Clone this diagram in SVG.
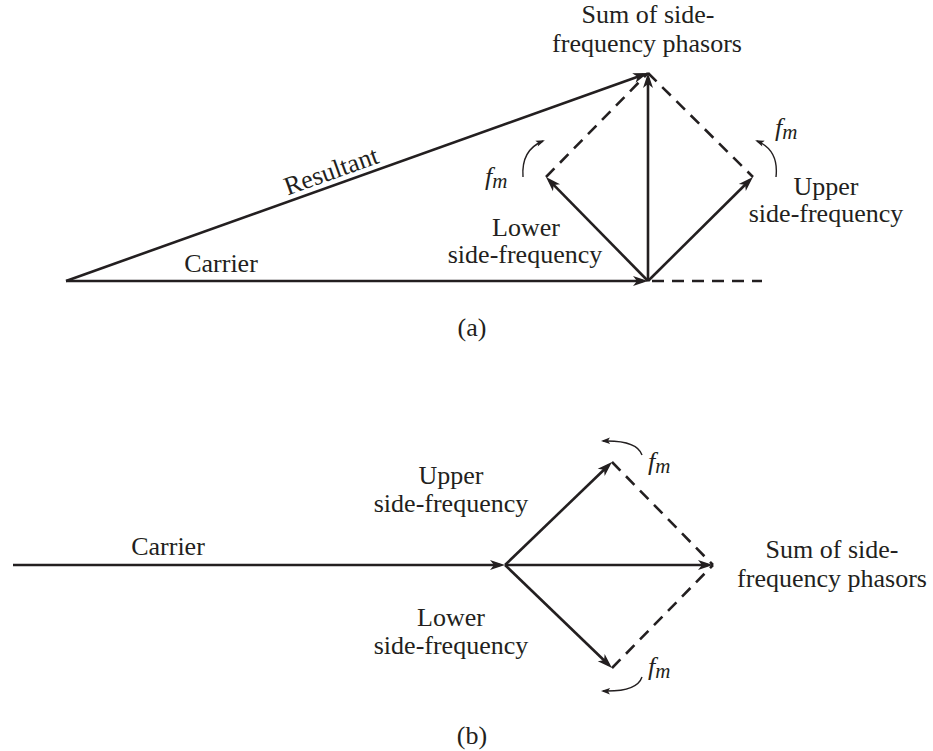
<svg xmlns="http://www.w3.org/2000/svg" width="933" height="751" viewBox="0 0 933 751">
<style>
text{font-family:"Liberation Serif","Times New Roman",serif;font-size:26px;fill:#231f20}
.c{text-anchor:middle}
.it{font-style:italic}
.ln{stroke:#231f20;stroke-width:2.6;fill:none}
.ar{stroke:#231f20;stroke-width:2.6;fill:none;marker-end:url(#ah)}
.ds{stroke:#231f20;stroke-width:2.6;fill:none;stroke-dasharray:12 8}
.rot{stroke:#231f20;stroke-width:1.4;fill:none;marker-end:url(#sm)}
</style>
<defs>
<marker id="ah" viewBox="-11 -6 17 12" refX="0" refY="0" markerWidth="17" markerHeight="12" markerUnits="userSpaceOnUse" orient="auto">
<path d="M5,0 L-10,-5 L-6,0 L-10,5 Z" fill="#231f20"/>
</marker>
<marker id="sm" viewBox="-8 -4 10 8" refX="0" refY="0" markerWidth="10" markerHeight="8" markerUnits="userSpaceOnUse" orient="auto">
<path d="M2,0 L-7,-3.2 L-5,0 L-7,3.2 Z" fill="#231f20"/>
</marker>
</defs>
<rect width="933" height="751" fill="#ffffff"/>
<g id="connectors">
<!-- (a) -->
<line class="ar" x1="66" y1="281" x2="643" y2="281"/>
<line class="ar" x1="66" y1="281" x2="643.3" y2="74.7"/>
<line class="ar" x1="648" y1="281" x2="648" y2="78"/>
<line class="ar" x1="648" y1="281" x2="549.5" y2="180.6"/>
<line class="ar" x1="648" y1="281" x2="749.4" y2="180.5"/>
<line class="ds" x1="546" y1="177" x2="648" y2="73"/>
<line class="ds" x1="648" y1="73" x2="753" y2="177"/>
<line class="ds" x1="652" y1="281" x2="762" y2="281"/>
<path class="rot" d="M523,177 Q521,150 543,141"/>
<path class="rot" d="M776,177 Q779,150 757,141"/>
<!-- (b) -->
<line class="ar" x1="13" y1="565" x2="500" y2="565"/>
<line class="ar" x1="505" y1="565" x2="708" y2="565"/>
<line class="ar" x1="505" y1="565" x2="608.4" y2="465.5"/>
<line class="ar" x1="505" y1="565" x2="608.4" y2="664.5"/>
<line class="ds" x1="612" y1="462" x2="713" y2="565"/>
<line class="ds" x1="612" y1="668" x2="713" y2="565"/>
<path class="rot" d="M642,455 Q637,440 603,441"/>
<path class="rot" d="M642,677 Q637,692 603,691"/>
</g>
<g id="label-a-sum"><text class="c" x="648" y="23">Sum of side-</text><text class="c" x="647" y="52">frequency phasors</text></g>
<g id="label-a-resultant"><text class="c" transform="translate(334,179) rotate(-19.67)">Resultant</text></g>
<g id="label-a-carrier"><text class="c" x="221" y="272">Carrier</text></g>
<g id="label-a-lower"><text class="c" x="526" y="236">Lower</text><text class="c" x="525" y="263">side-frequency</text></g>
<g id="label-a-upper"><text class="c" x="826" y="195">Upper</text><text class="c" x="826" y="222">side-frequency</text></g>
<g id="label-a-fm1"><text class="it" x="485" y="185">f<tspan font-size="21" dy="3">m</tspan></text></g>
<g id="label-a-fm2"><text class="it" x="775" y="136">f<tspan font-size="21" dy="3">m</tspan></text></g>
<g id="caption-a"><text class="c" x="472" y="336">(a)</text></g>
<g id="label-b-carrier"><text class="c" x="168" y="555">Carrier</text></g>
<g id="label-b-upper"><text class="c" x="451" y="484">Upper</text><text class="c" x="451" y="512">side-frequency</text></g>
<g id="label-b-lower"><text class="c" x="451" y="626">Lower</text><text class="c" x="451" y="654">side-frequency</text></g>
<g id="label-b-sum"><text class="c" x="832" y="558">Sum of side-</text><text class="c" x="832" y="587">frequency phasors</text></g>
<g id="label-b-fm1"><text class="it" x="648" y="470">f<tspan font-size="21" dy="3">m</tspan></text></g>
<g id="label-b-fm2"><text class="it" x="648" y="675">f<tspan font-size="21" dy="3">m</tspan></text></g>
<g id="caption-b"><text class="c" x="472" y="744">(b)</text></g>
</svg>
